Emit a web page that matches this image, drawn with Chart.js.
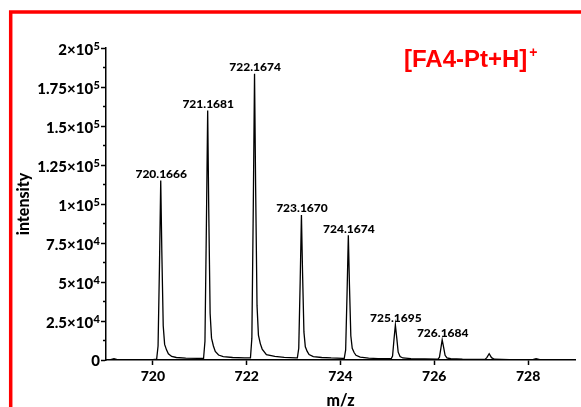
<!DOCTYPE html>
<html><head><meta charset="utf-8">
<script src="https://cdn.jsdelivr.net/npm/chart.js@4"></script>
<style>html,body{margin:0;padding:0;background:#fff;}#wrap{width:581px;height:407px;position:relative;overflow:hidden;}canvas{display:block;}</style>
</head><body><div id="wrap"><canvas id="c" width="581" height="407"></canvas></div>
<script>
// m/z positions of the profile points
const mzValues = [
  719.00, 719.10, 719.17, 719.24, 719.60, 720.00, 720.08, 720.11, 720.14, 720.167, 720.19, 720.22, 720.25, 720.29, 720.33, 720.40, 720.50, 720.70, 720.95,
  721.08, 721.11, 721.14, 721.168, 721.19, 721.22, 721.25, 721.29, 721.33, 721.40, 721.50, 721.70, 721.95,
  722.08, 722.11, 722.14, 722.167, 722.19, 722.22, 722.25, 722.29, 722.33, 722.42, 722.60, 722.80, 723.05,
  723.08, 723.11, 723.14, 723.167, 723.19, 723.22, 723.25, 723.29, 723.33, 723.42, 723.60, 723.80, 724.05,
  724.08, 724.11, 724.14, 724.167, 724.19, 724.22, 724.25, 724.29, 724.33, 724.42, 724.60, 724.80, 725.05,
  725.08, 725.11, 725.14, 725.17, 725.20, 725.23, 725.27, 725.33, 725.50, 725.80, 726.05,
  726.08, 726.11, 726.14, 726.168, 726.20, 726.23, 726.27, 726.35, 726.60, 727.05,
  727.08, 727.12, 727.17, 727.22, 727.28, 727.60, 728.05,
  728.10, 728.17, 728.25, 729.00
];
// intensities
const intensityValues = [
  200, 200, 900, 200, 200, 300, 600, 9000, 60000, 115000, 70000, 22000, 10000, 6500, 4000, 2300, 1600, 1200, 1000,
  1000, 12000, 85000, 160000, 98000, 30000, 14000, 9000, 5500, 3200, 2200, 1600, 1300,
  1300, 14000, 97000, 183500, 112000, 35000, 16000, 10500, 7000, 3400, 2300, 1700, 1400,
  1400, 7500, 50000, 93000, 57000, 18000, 8500, 5500, 3500, 2200, 1600, 1300, 1100,
  1100, 6500, 43000, 80000, 49000, 15500, 7500, 4800, 3000, 1800, 1200, 900, 800,
  800, 2500, 13000, 22500, 14000, 5000, 2200, 1300, 900, 700, 600,
  600, 1800, 7500, 13000, 8000, 3000, 1400, 800, 500, 400,
  400, 1500, 4000, 1500, 500, 300, 300,
  300, 900, 300, 200
];
const peakLabels = ['720.1666', '721.1681', '722.1674', '723.1670', '724.1674', '725.1695', '726.1684'];
const xTickValues = [720, 722, 724, 726, 728];
const yTickValues = [0, 25000, 50000, 75000, 100000, 125000, 150000, 175000, 200000];
const yTickLabels = [['0', ''], ['2.5×10', '4'], ['5×10', '4'], ['7.5×10', '4'], ['1×10', '5'], ['1.25×10', '5'], ['1.5×10', '5'], ['1.75×10', '5'], ['2×10', '5']];
const yMinorTickValues = [12500, 37500, 62500, 87500, 112500, 137500, 162500, 187500];
const chartTitle = '[FA4-Pt+H]';
const chartTitleSup = '+';
const xTitle = 'm/z';
const yTitle = 'intensity';

const deco = {
  id: 'deco',
  beforeDraw(chart) {
    const ctx = chart.ctx;
    ctx.save();
    ctx.fillStyle = '#fff';
    ctx.fillRect(0, 0, chart.width, chart.height);
    ctx.strokeStyle = '#ff0000';
    ctx.lineWidth = 3.5;
    ctx.beginPath();
    ctx.moveTo(10.7, 440);
    ctx.lineTo(10.7, 12);
    ctx.lineTo(620, 12);
    ctx.stroke();
    ctx.restore();
  },
  afterDraw(chart) {
    const ctx = chart.ctx;
    const xs = chart.scales.x, ys = chart.scales.y;
    ctx.save();
    // minor y ticks
    ctx.strokeStyle = '#000';
    ctx.lineWidth = 1.5;
    const left = chart.chartArea.left;
    yMinorTickValues.forEach(v => {
      const y = ys.getPixelForValue(v);
      ctx.beginPath(); ctx.moveTo(left - 3, y); ctx.lineTo(left, y); ctx.stroke();
    });
    // y tick labels with superscript exponents
    ctx.fillStyle = '#000';
    ctx.textBaseline = 'middle';
    const rightEdge = left - 6;
    yTickValues.forEach((v, i) => {
      const y = ys.getPixelForValue(v);
      const [mant, exp] = yTickLabels[i];
      ctx.font = '900 11px Lato';
      const ew = exp ? ctx.measureText(exp).width : 0;
      if (exp) { ctx.textAlign = 'left'; ctx.fillText(exp, rightEdge - ew, y - 1.5); }
      ctx.font = '900 15px Lato';
      ctx.textAlign = 'right';
      ctx.fillText(mant, rightEdge - ew - (exp ? 0.5 : 0), y + (exp ? 2.5 : 1));
    });
    // peak labels
    ctx.font = '900 12px Lato';
    ctx.textAlign = 'center';
    ctx.textBaseline = 'bottom';
    peakLabels.forEach(lbl => {
      const m = parseFloat(lbl);
      let best = 0;
      mzValues.forEach((x, i) => { if (Math.abs(x - m) < 0.05 && intensityValues[i] > best) best = intensityValues[i]; });
      ctx.fillText(lbl, xs.getPixelForValue(m) + 0.5, ys.getPixelForValue(best) - 0.5);
    });
    // title
    ctx.fillStyle = '#ff0000';
    ctx.textAlign = 'left';
    ctx.textBaseline = 'alphabetic';
    ctx.font = 'bold 24px "Liberation Sans"';
    const tx = 404;
    ctx.fillText(chartTitle, tx, 67);
    const tw = ctx.measureText(chartTitle).width;
    ctx.font = 'bold 14px "Liberation Sans"';
    ctx.fillText(chartTitleSup, tx + tw + 2, 56.5);
    ctx.restore();
  }
};

const axisGrid = { drawOnChartArea: false, tickLength: 5, tickColor: '#000', tickWidth: 1.5 };
const axisBorder = { color: '#000', width: 1.5 };

new Chart(document.getElementById('c').getContext('2d'), {
  type: 'scatter',
  data: {
    datasets: [{
      data: mzValues.map((x, i) => ({ x: x, y: intensityValues[i] })),
      showLine: true,
      borderColor: '#000',
      borderWidth: 1.3,
      pointRadius: 0,
      fill: false,
      tension: 0
    }]
  },
  options: {
    responsive: false,
    animation: false,
    events: [],
    layout: { padding: { left: 0, top: 48, right: 6, bottom: 0 } },
    plugins: { legend: { display: false }, tooltip: { enabled: false } },
    scales: {
      x: {
        type: 'linear', min: 719, max: 729,
        afterBuildTicks: s => { s.ticks = xTickValues.map(v => ({ value: v })); },
        afterFit: s => { s.height = 47; },
        grid: axisGrid, border: axisBorder,
        ticks: { color: '#000', font: { family: 'Lato', weight: '900', size: 14 }, padding: 3, maxRotation: 0, autoSkip: false },
        title: { display: true, text: xTitle, color: '#000', font: { family: 'Lato', weight: '900', size: 16, lineHeight: 1 }, padding: { top: 0, bottom: -2 } }
      },
      y: {
        type: 'linear', min: 0, max: 200000,
        afterBuildTicks: s => { s.ticks = yTickValues.map(v => ({ value: v })); },
        afterFit: s => { s.width = 106; },
        grid: axisGrid, border: axisBorder,
        ticks: { display: false },
        title: { display: true, text: yTitle, color: '#000', font: { family: 'Lato', weight: '900', size: 16, lineHeight: 1 }, padding: { top: 16, bottom: 0 } }
      }
    }
  },
  plugins: [deco]
});
</script></body></html>
